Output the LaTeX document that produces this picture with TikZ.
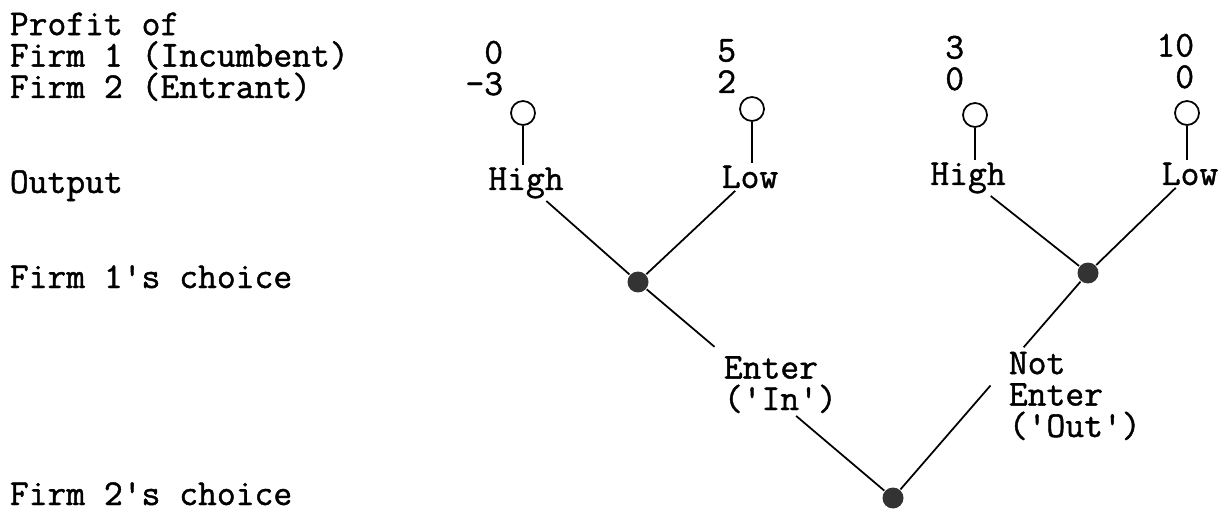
\documentclass[tikz,border=0pt]{standalone}
\usepackage{fontspec}
\setmainfont{Latin Modern Mono}[FakeBold=1.2]
\usetikzlibrary{calc}

\tikzset{
  leaf/.style={circle,draw,line width=1pt,minimum size=0.48cm,inner sep=0pt},
  choice/.style={circle,fill=black!80,minimum size=0.42cm,inner sep=0pt},
  lbl/.style={anchor=base,inner sep=1pt},
  pay/.style={anchor=base east,inner sep=0pt,align=right},
  side/.style={anchor=base west,inner sep=0pt,align=left}
}
\newcommand{\q}{\textquotesingle}

\begin{document}
\begin{tikzpicture}[x=0.02cm,y=-0.02cm,line width=1pt]
\fontsize{20.8}{17.9}\selectfont\lineskiplimit=-50pt
\useasboundingbox (0,0) rectangle (1227,513);

% row titles (base = last line)
\node[side] (heads) at (9,98) {Profit of\\Firm 1 (Incumbent)\\Firm 2 (Entrant)};
\node[side] (out) at (9,193) {Output};
\node[side] (ch1) at (9,288) {Firm 1\q s choice};
\node[side] (ch2) at (9,505) {Firm 2\q s choice};

% payoffs
\node[pay] (pay1) at (504,95) {0\\-3};
\node[pay] (pay2) at (737,93) {5\\2};
\node[pay] (pay3) at (965,90) {3\\0};
\node[pay] (pay4) at (1195,88) {10\\0};

% end points
\node[leaf] (e1) at (523,113) {};
\node[leaf] (e2) at (752,109) {};
\node[leaf] (e3) at (975,115) {};
\node[leaf] (e4) at (1187,113) {};

\node[lbl] (hi1) at (526,190) {High};
\node[lbl] (lo1) at (750,188) {Low};
\node[lbl] (hi2) at (968,185) {High};
\node[lbl] (lo2) at (1190,185) {Low};

% choice points
\node[choice] (d1) at (638,282) {};
\node[choice] (d2) at (1088,273) {};
\node[choice] (root) at (893,498) {};

\node[side] (in) at (723,410) {Enter\\(\q In\q)};
\node[side] (notin) at (1008,437) {Not\\Enter\\(\q Out\q)};

\draw (e1) -- (e1 |- hi1.north);
\draw (e2) -- (e2 |- lo1.north);
\draw (e3) -- (e3 |- hi2.north);
\draw (e4) -- (e4 |- lo2.north);

\draw (hi1) -- (d1);
\draw (lo1) -- (d1);
\draw (hi2) -- (d2);
\draw (lo2) -- (d2);

\draw (d1) -- ($(d1)!0.3!(root)$);
\draw ($(d1)!0.62!(root)$) -- (root);
\draw (d2) -- ($(d2)!0.33!(root)$);
\draw ($(d2)!0.5!(root)$) -- (root);
\end{tikzpicture}
\end{document}
